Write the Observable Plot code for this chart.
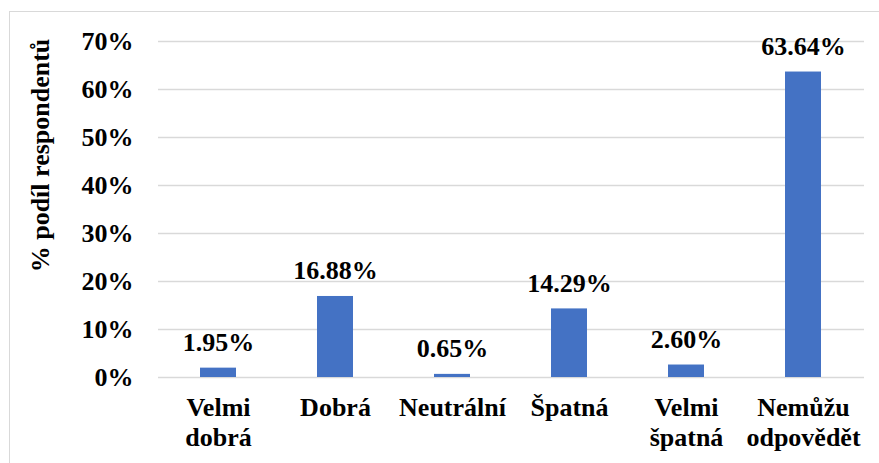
<!DOCTYPE html>
<html>
<head>
<meta charset="utf-8">
<script src="https://cdn.jsdelivr.net/npm/d3@7"></script>
<script src="https://cdn.jsdelivr.net/npm/@observablehq/plot@0.6"></script>
<style>
  body { margin: 0; background: #fff; }
  #wrap { position: relative; width: 879px; height: 463px; overflow: hidden; }
  #border { position: absolute; left: 9px; top: 11px; width: 900px; height: 500px; border: 1.5px solid #d9d9d9; box-sizing: border-box; }
  #chart { position: absolute; left: 0; top: 0; }
</style>
</head>
<body>
<div id="wrap"><div id="border"></div><div id="chart"></div></div>
<script>
const categories = ["Velmi\ndobrá", "Dobrá", "Neutrální", "Špatná", "Velmi\nšpatná", "Nemůžu\nodpovědět"];
const values = [1.95, 16.88, 0.65, 14.29, 2.60, 63.64];
const yTicks = [0, 10, 20, 30, 40, 50, 60, 70];
const yTitle = "% podíl respondentů";

const data = categories.map((c, i) => ({category: c, value: values[i]}));
const font = "Liberation Serif, Tinos, DejaVu Serif, Noto Serif, serif";

const plot = Plot.plot({
  width: 879,
  height: 463,
  marginLeft: 158,
  marginRight: 15,
  marginTop: 41,
  marginBottom: 86,
  style: {fontFamily: font, fontSize: "26px", fontWeight: "bold", color: "#000", background: "transparent"},
  x: {domain: categories, paddingInner: 0.69, paddingOuter: 0.345, label: null},
  y: {domain: [0, 70], label: null},
  marks: [
    Plot.gridY(yTicks, {stroke: "#d9d9d9", strokeOpacity: 1, strokeWidth: 1.5}),
    Plot.axisY(yTicks, {tickSize: 0, tickPadding: 25, tickFormat: d => d + "%", label: null, fontSize: 26, fontWeight: "bold", fill: "#000"}),
    Plot.axisX({tickSize: 0, tickPadding: 17, label: null, lineHeight: 1.15, fontSize: 26, fontWeight: "bold", fill: "#000"}),
    Plot.barY(data, {x: "category", y: "value", fill: "#4472C4"}),
    Plot.text(data, {x: "category", y: "value", text: d => d.value.toFixed(2) + "%", lineAnchor: "bottom", dy: -17, fontSize: 26, fontWeight: "bold", fill: "#000"}),
    Plot.text([yTitle], {frameAnchor: "left", textAnchor: "middle", rotate: -90, dx: -118, dy: -54, fontSize: 26, fontWeight: "bold", fill: "#000"})
  ]
});
plot.setAttribute("font-family", font);
plot.querySelectorAll("text, g").forEach(el => { el.style.fontFamily = font; });
document.getElementById("chart").appendChild(plot);
</script>
</body>
</html>
